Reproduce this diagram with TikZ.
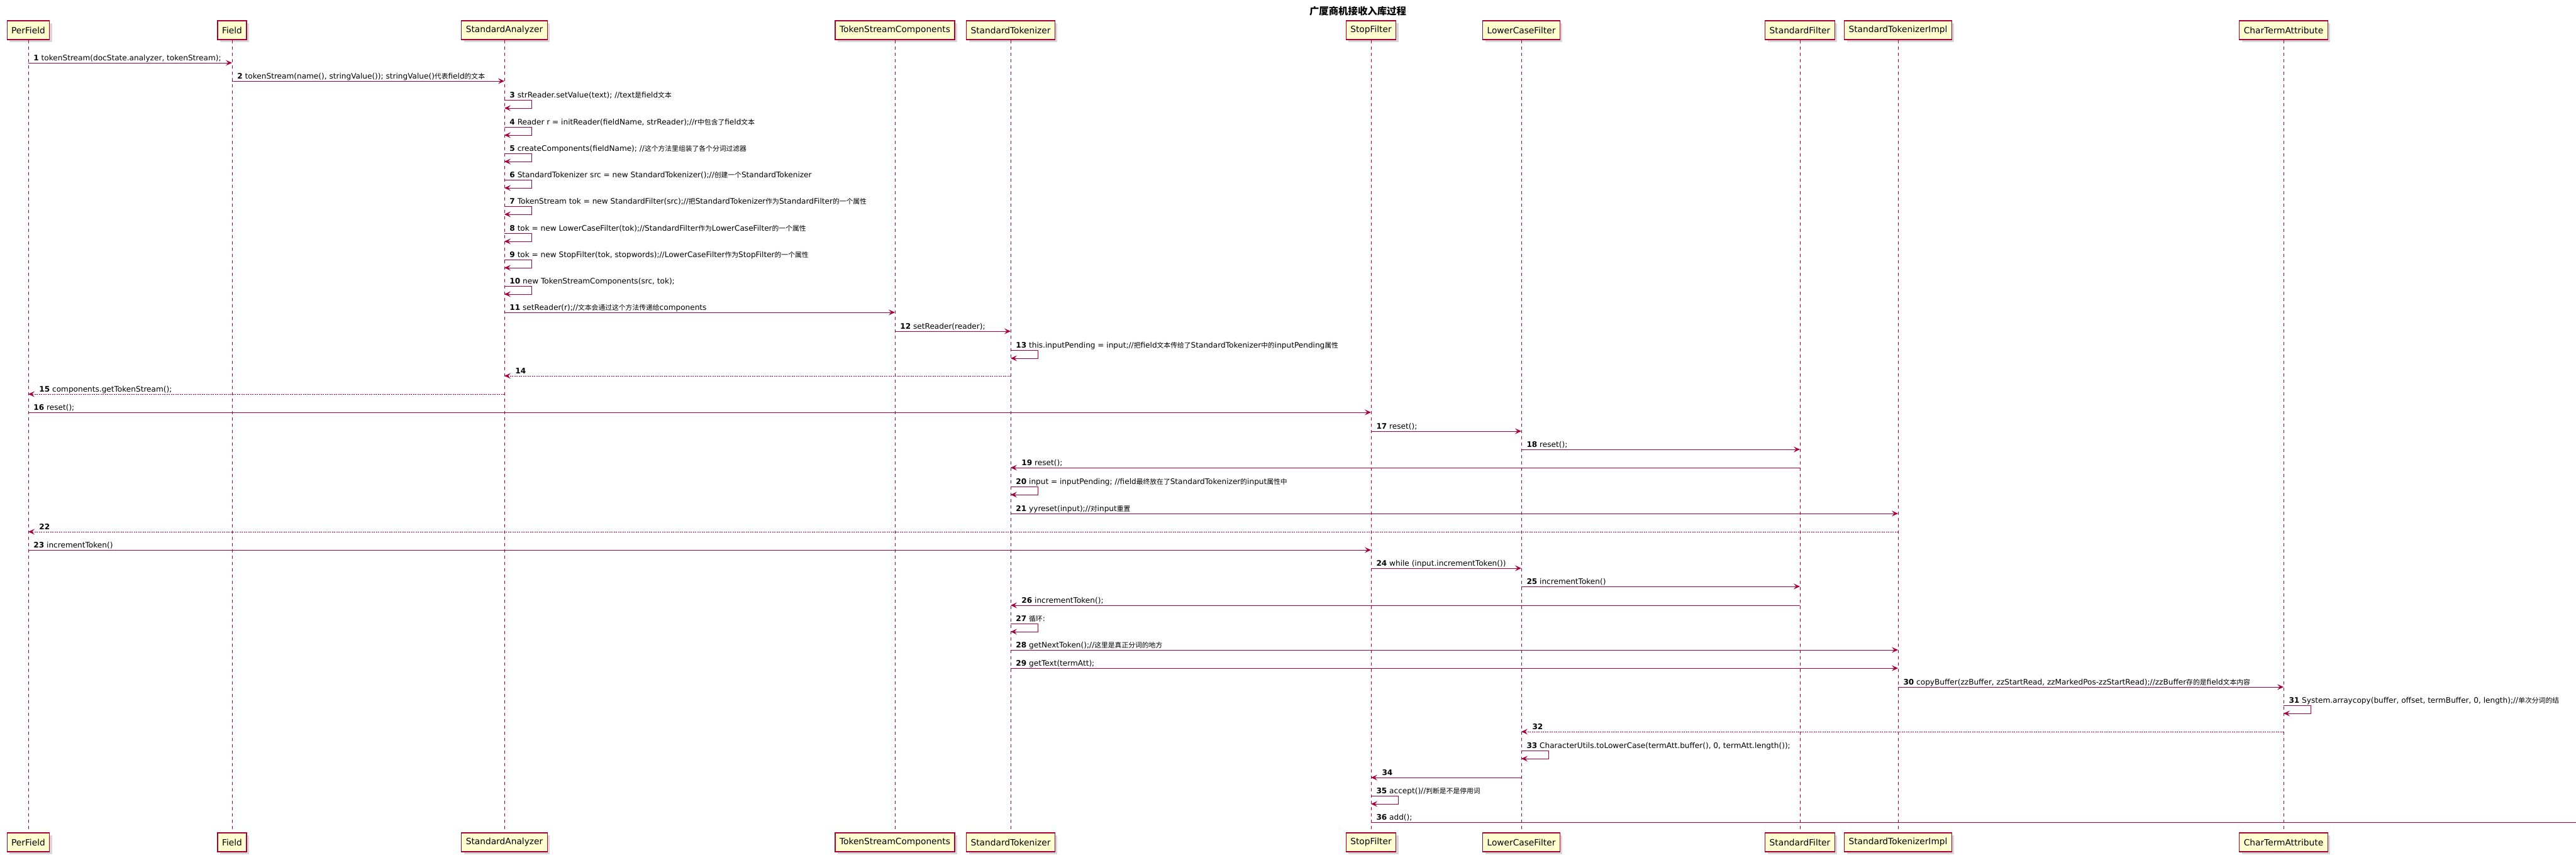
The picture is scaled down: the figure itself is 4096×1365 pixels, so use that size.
\documentclass[tikz,border=0pt]{standalone}
\usepackage{fontspec}
\setmainfont{DejaVu Sans}
\newfontfamily\cjk{Noto Sans CJK SC}
\usetikzlibrary{arrows.meta,shadows}
\newcommand{\zhtxt}[1]{{\cjk\fontsize{10.8}{14}\selectfont #1}}

\begin{document}
\begin{tikzpicture}[
  x=1pt, y=-1pt, % one unit per pixel, y going down
  participant/.style={
    draw=umlRed, fill=boxFill, % PlantUML participant colours
    line width=1.3pt,
    minimum height=30pt, % Height of each box
    inner xsep=7pt, inner ysep=0pt,
    font=\fontsize{13.75}{16}\selectfont,
    drop shadow={shadow xshift=4pt, shadow yshift=-4pt, opacity=.3}
  },
  lifeline/.style={draw=umlRed, line width=0.7pt, dash pattern=on 5pt off 5pt}, % Dashed lifelines
  msg/.style={draw=umlRed, line width=0.95pt, -{Stealth[length=10pt, width=9pt, inset=4pt]}}, % Call arrow
  reply/.style={msg, dash pattern=on 2pt off 1.5pt}, % Return arrow
  lbl/.style={anchor=base west, inner sep=0pt, font=\fontsize{12.1}{14}\selectfont},
  rlbl/.style={lbl, pos=0, xshift=8pt, yshift=4pt}, % Label of a rightwards or self message
  llbl/.style={lbl, pos=1, xshift=17pt, yshift=4pt}, % Label of a leftwards message
  title/.style={font={\cjk\bfseries\fontsize{15.4}{18}\selectfont}}
]

% Define colors for styling
\definecolor{umlRed}{HTML}{A80036} % Borders, lifelines and arrows
\definecolor{boxFill}{HTML}{FEFECE} % Light yellow for participants

\useasboundingbox[fill=white] (0,0) rectangle (4096,1365);

\node[title] (title) at (2159,18) {广厦商机接收入库过程};

% Participants on top
\node[participant] (pf) at (45,48) {PerField};
\node[participant] (fd) at (369,48) {Field};
\node[participant] (sa) at (802,48) {StandardAnalyzer};
\node[participant] (tsc) at (1423,48) {TokenStreamComponents};
\node[participant] (st) at (1607,48) {StandardTokenizer};
\node[participant] (stop) at (2180,48) {StopFilter};
\node[participant] (lower) at (2419,48) {LowerCaseFilter};
\node[participant] (stdf) at (2862,48) {StandardFilter};
\node[participant] (impl) at (3018,48) {StandardTokenizerImpl};
\node[participant] (term) at (3631,48) {CharTermAttribute};

% Participants at the bottom
\node[participant] (pf2) at (45,1340) {PerField};
\node[participant] (fd2) at (369,1340) {Field};
\node[participant] (sa2) at (802,1340) {StandardAnalyzer};
\node[participant] (tsc2) at (1423,1340) {TokenStreamComponents};
\node[participant] (st2) at (1607,1340) {StandardTokenizer};
\node[participant] (stop2) at (2180,1340) {StopFilter};
\node[participant] (lower2) at (2419,1340) {LowerCaseFilter};
\node[participant] (stdf2) at (2862,1340) {StandardFilter};
\node[participant] (impl2) at (3018,1340) {StandardTokenizerImpl};
\node[participant] (term2) at (3631,1340) {CharTermAttribute};

% Lifelines
\draw[lifeline] (pf.south) -- (pf2.north);
\draw[lifeline] (fd.south) -- (fd2.north);
\draw[lifeline] (sa.south) -- (sa2.north);
\draw[lifeline] (tsc.south) -- (tsc2.north);
\draw[lifeline] (st.south) -- (st2.north);
\draw[lifeline] (stop.south) -- (stop2.north);
\draw[lifeline] (lower.south) -- (lower2.north);
\draw[lifeline] (stdf.south) -- (stdf2.north);
\draw[lifeline] (impl.south) -- (impl2.north);
\draw[lifeline] (term.south) -- (term2.north);

\coordinate (edge) at (4096,0); % Right border, where message 36 leaves the picture

% Building the components
\draw[msg] (pf |- 0,100) -- node[rlbl] {\textbf{1} tokenStream(docState.analyzer, tokenStream);} (fd |- 0,100);
\draw[msg] (fd |- 0,129) -- node[rlbl] {\textbf{2} tokenStream(name(), stringValue()); stringValue()\zhtxt{代表}field\zhtxt{的文本}} (sa |- 0,129);
\draw[msg] (sa |- 0,159) -- node[rlbl] {\textbf{3} strReader.setValue(text); //text\zhtxt{是}field\zhtxt{文本}} ++(43,0) -- ++(0,13) -- ++(-43,0);
\draw[msg] (sa |- 0,202) -- node[rlbl] {\textbf{4} Reader r = initReader(fieldName, strReader);//r\zhtxt{中包含了}field\zhtxt{文本}} ++(43,0) -- ++(0,13) -- ++(-43,0);
\draw[msg] (sa |- 0,244) -- node[rlbl] {\textbf{5} createComponents(fieldName); //\zhtxt{这个方法里组装了各个分词过滤器}} ++(43,0) -- ++(0,13) -- ++(-43,0);
\draw[msg] (sa |- 0,286) -- node[rlbl] {\textbf{6} StandardTokenizer src = new StandardTokenizer();//\zhtxt{创建一个}StandardTokenizer} ++(43,0) -- ++(0,13) -- ++(-43,0);
\draw[msg] (sa |- 0,328) -- node[rlbl] {\textbf{7} TokenStream tok = new StandardFilter(src);//\zhtxt{把}StandardTokenizer\zhtxt{作为}StandardFilter\zhtxt{的一个属性}} ++(43,0) -- ++(0,13) -- ++(-43,0);
\draw[msg] (sa |- 0,371) -- node[rlbl] {\textbf{8} tok = new LowerCaseFilter(tok);//StandardFilter\zhtxt{作为}LowerCaseFilter\zhtxt{的一个属性}} ++(43,0) -- ++(0,13) -- ++(-43,0);
\draw[msg] (sa |- 0,413) -- node[rlbl] {\textbf{9} tok = new StopFilter(tok, stopwords);//LowerCaseFilter\zhtxt{作为}StopFilter\zhtxt{的一个属性}} ++(43,0) -- ++(0,13) -- ++(-43,0);
\draw[msg] (sa |- 0,455) -- node[rlbl] {\textbf{10} new TokenStreamComponents(src, tok);} ++(43,0) -- ++(0,13) -- ++(-43,0);
\draw[msg] (sa |- 0,497) -- node[rlbl] {\textbf{11} setReader(r);//\zhtxt{文本会通过这个方法传递给}components} (tsc |- 0,497);
\draw[msg] (tsc |- 0,527) -- node[rlbl] {\textbf{12} setReader(reader);} (st |- 0,527);
\draw[msg] (st |- 0,557) -- node[rlbl] {\textbf{13} this.inputPending = input;//\zhtxt{把}field\zhtxt{文本传给了}StandardTokenizer\zhtxt{中的}inputPending\zhtxt{属性}} ++(43,0) -- ++(0,13) -- ++(-43,0);
\draw[reply] (st |- 0,598) -- node[llbl] {\textbf{14}} (sa |- 0,598);
\draw[reply] (sa |- 0,627) -- node[llbl] {\textbf{15} components.getTokenStream();} (pf |- 0,627);

% Resetting the filter chain
\draw[msg] (pf |- 0,656) -- node[rlbl] {\textbf{16} reset();} (stop |- 0,656);
\draw[msg] (stop |- 0,686) -- node[rlbl] {\textbf{17} reset();} (lower |- 0,686);
\draw[msg] (lower |- 0,715) -- node[rlbl] {\textbf{18} reset();} (stdf |- 0,715);
\draw[msg] (stdf |- 0,744) -- node[llbl] {\textbf{19} reset();} (st |- 0,744);
\draw[msg] (st |- 0,774) -- node[rlbl] {\textbf{20} input = inputPending; //field\zhtxt{最终放在了}StandardTokenizer\zhtxt{的}input\zhtxt{属性中}} ++(43,0) -- ++(0,13) -- ++(-43,0);
\draw[msg] (st |- 0,817) -- node[rlbl] {\textbf{21} yyreset(input);//\zhtxt{对}input\zhtxt{重置}} (impl |- 0,817);
\draw[reply] (impl |- 0,846) -- node[llbl] {\textbf{22}} (pf |- 0,846);

% Pulling tokens
\draw[msg] (pf |- 0,875) -- node[rlbl] {\textbf{23} incrementToken()} (stop |- 0,875);
\draw[msg] (stop |- 0,904) -- node[rlbl] {\textbf{24} while (input.incrementToken())} (lower |- 0,904);
\draw[msg] (lower |- 0,933) -- node[rlbl] {\textbf{25} incrementToken()} (stdf |- 0,933);
\draw[msg] (stdf |- 0,963) -- node[llbl] {\textbf{26} incrementToken();} (st |- 0,963);
\draw[msg] (st |- 0,992) -- node[rlbl] {\textbf{27} \zhtxt{循环}:} ++(43,0) -- ++(0,13) -- ++(-43,0);
\draw[msg] (st |- 0,1034) -- node[rlbl] {\textbf{28} getNextToken();//\zhtxt{这里是真正分词的地方}} (impl |- 0,1034);
\draw[msg] (st |- 0,1063) -- node[rlbl] {\textbf{29} getText(termAtt);} (impl |- 0,1063);
\draw[msg] (impl |- 0,1093) -- node[rlbl] {\textbf{30} copyBuffer(zzBuffer, zzStartRead, zzMarkedPos-zzStartRead);//zzBuffer\zhtxt{存的是}field\zhtxt{文本内容}} (term |- 0,1093);
\draw[msg] (term |- 0,1122) -- node[rlbl] {\textbf{31} System.arraycopy(buffer, offset, termBuffer, 0, length);//\zhtxt{单次分词的结}} ++(43,0) -- ++(0,13) -- ++(-43,0);
\draw[reply] (term |- 0,1164) -- node[llbl] {\textbf{32}} (lower |- 0,1164);
\draw[msg] (lower |- 0,1194) -- node[rlbl] {\textbf{33} CharacterUtils.toLowerCase(termAtt.buffer(), 0, termAtt.length());} ++(43,0) -- ++(0,13) -- ++(-43,0);
\draw[msg] (lower |- 0,1237) -- node[llbl] {\textbf{34}} (stop |- 0,1237);
\draw[msg] (stop |- 0,1266) -- node[rlbl] {\textbf{35} accept()//\zhtxt{判断是不是停用词}} ++(43,0) -- ++(0,13) -- ++(-43,0);
\draw[msg, -] (stop |- 0,1308) -- node[rlbl] {\textbf{36} add();} (edge |- 0,1308);

\end{tikzpicture}
\end{document}
